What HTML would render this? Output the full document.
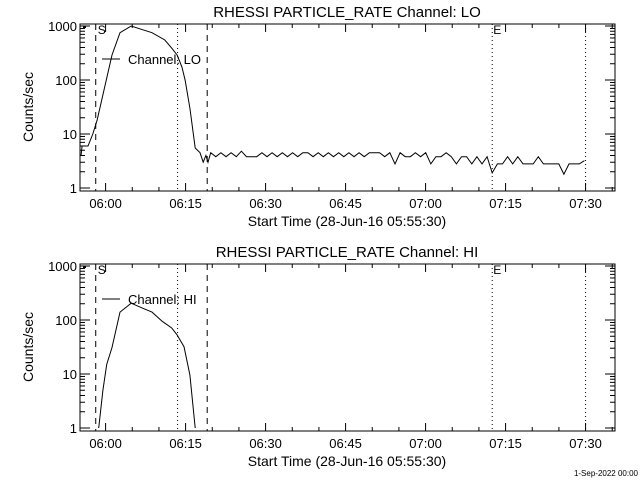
<!DOCTYPE html>
<html><head><meta charset="utf-8"><style>
html,body{margin:0;padding:0;background:#fff;}
svg{display:block;font-family:"Liberation Sans",sans-serif;}
</style></head><body>
<svg id="chart" width="640" height="480" viewBox="0 0 640 480" xmlns="http://www.w3.org/2000/svg">
<rect x="0" y="0" width="640" height="480" fill="#fff"/>
<text x="638" y="476" text-anchor="end" font-size="8" fill="#000">1-Sep-2022 00:00</text>
</svg>
<script>
// data (time in minutes after 05:55:12)
const loTimes = [0.2,0.4,1.5,2.4,3.2,6.0,7.5,9.6,11.8,13.5,15.9,17.2,18.2,19.1,19.7,20.6,21.6,22.5,23.1,23.6,24.0];
const loValues = [4.1,6,6,10,18,290,750,1000,850,750,550,390,290,175,100,30,5.5,4.5,3,4,3];
const loNoiseStart = 24.5;
const loNoise = [4.5,3.8,4.5,3.8,4.5,3.8,4.8,3.8,3.8,3.8,4.5,3.8,4.5,3.8,4.5,3.8,4.5,3.8,4.5,4.5,3.8,4.5,3.8,4.5,3.8,4.5,3.8,4.5,3.8,4.5,3.8,4.5,4.5,4.5,3.8,4.5,2.8,4.5,3.8,3.8,4.5,3.8,4.5,2.8,3.8,3.8,4.5,3.8,2.8,3.8,3.8,2.8,3.8,2.8,3.8,1.9,2.8,2.8,3.8,2.8,3.8,2.8,2.8,2.8,3.8,2.8,2.8,2.8,2.8,1.8,2.8,2.8,2.8,3.2];
const hiTimes = [2.8,3.5,4.3,5.0,6.0,7.5,9.6,11.8,13.5,15.4,17.2,18.2,19.5,20.6,21.6,22.2];
const hiValues = [0.4,1,5,15,31,140,205,165,140,95,71,53,32,9.6,1,0.4];
const xTickLabels = ["06:00","06:15","06:30","06:45","07:00","07:15","07:30"];
const xTickMinutes = [4.8,19.8,34.8,49.8,64.8,79.8,94.8];
const yTickValues = [1,10,100,1000];
const dashedLines = [2.95,23.85];
const dottedLines = [18.3,77.3,94.8];

const svg = document.getElementById('chart');
const NS = 'http://www.w3.org/2000/svg';
const X0 = 80, X1 = 615, PXMIN = 5.333;
const xs = m => X0 + m * PXMIN;
function mk(tag, attrs, parent) {
  const e = document.createElementNS(NS, tag);
  for (const k in attrs) e.setAttribute(k, attrs[k]);
  (parent || svg).appendChild(e);
  return e;
}
function txt(s, attrs, parent) { const e = mk('text', attrs, parent); e.textContent = s; return e; }

function panel(off, chName, times, values, noise) {
  const ys = v => off + 188 - 54 * Math.log10(v);
  const g = mk('g', {});
  
  
  const top = off + 24, bot = off + 191;
  const t = txt('RHESSI PARTICLE_RATE Channel: ' + chName, {x: 347, y: off + 17, 'text-anchor': 'middle', 'font-size': 15}, g);
  
  
  const xl = txt('Start Time (28-Jun-16 05:55:30)', {x: 347, y: off + 226, 'text-anchor': 'middle', 'font-size': 14}, g);
  
  
  const yl = txt('Counts/sec', {x: 0, y: 0, 'text-anchor': 'middle', 'font-size': 14, transform: 'translate(33,' + (off + 107) + ') rotate(-90)'}, g);
  
  
  // frame
  const fr = mk('rect', {x: X0, y: top, width: X1 - X0, height: bot - top, fill: 'none', stroke: '#000', 'stroke-width': 1}, g);
  
  
  // x ticks
  for (let m = -0.2; m <= 100.3; m += 5) {
    const xx = xs(m);
    if (xx < X0 + 2 || xx > X1 - 1) continue;
    const major = xTickMinutes.some(v => Math.abs(v - m) < 0.5);
    const L = major ? 8 : 4;
    mk('line', {x1: xx, x2: xx, y1: bot, y2: bot - L, stroke: '#000'}, g);
    mk('line', {x1: xx, x2: xx, y1: top, y2: top + L, stroke: '#000'}, g);
  }
  xTickLabels.forEach((s, i) => {
    const l = txt(s, {x: xs(xTickMinutes[i]), y: bot + 17, 'text-anchor': 'middle', 'font-size': 13}, g);
    
    
  });
  // y ticks
  yTickValues.forEach((v, i) => {
    const yy = ys(v);
    mk('line', {x1: X0, x2: X0 + 10, y1: yy, y2: yy, stroke: '#000'}, g);
    mk('line', {x1: X1, x2: X1 - 10, y1: yy, y2: yy, stroke: '#000'}, g);
    const l = txt(String(v), {x: X0 - 3, y: yy + 5, 'text-anchor': 'end', 'font-size': 13}, g);
    
    
    if (i < yTickValues.length - 1 || true) {
      for (let k = 2; k <= 9; k++) {
        const yk = ys(v * k);
        if (yk < top) continue;
        mk('line', {x1: X0, x2: X0 + 5, y1: yk, y2: yk, stroke: '#000'}, g);
        mk('line', {x1: X1, x2: X1 - 5, y1: yk, y2: yk, stroke: '#000'}, g);
      }
    }
  });
  // vertical markers
  dashedLines.forEach(m => {
    const l = mk('line', {x1: xs(m), x2: xs(m), y1: top, y2: bot, stroke: '#000', 'stroke-dasharray': '6,5'}, g);
    
    
  });
  dottedLines.forEach(m => {
    const l = mk('line', {x1: xs(m), x2: xs(m), y1: top, y2: bot, stroke: '#000', 'stroke-dasharray': '1,3'}, g);
    
    
  });
  txt('S', {x: xs(dashedLines[0]) + 2, y: top + 10, 'font-size': 12}, g);
  txt('E', {x: xs(dottedLines[1]) + 1, y: top + 10, 'font-size': 12}, g);
  mk('line', {x1: X0 + 3, x2: X0 + 6, y1: top + 3, y2: top + 3, stroke: '#000', 'stroke-width': 2}, g);
  // data
  const cid = 'clip' + chName;
  const cp = mk('clipPath', {id: cid}, g);
  mk('rect', {x: X0, y: top, width: X1 - X0, height: bot - top - 3}, cp);
  let pts = times.map((m, i) => xs(m).toFixed(1) + ',' + ys(values[i]).toFixed(1));
  if (noise) noise.forEach((v, i) => pts.push(xs(loNoiseStart + i * 0.96).toFixed(1) + ',' + ys(v).toFixed(1)));
  const pl = mk('polyline', {points: pts.join(' '), fill: 'none', stroke: '#000', 'stroke-width': 1, 'clip-path': 'url(#' + cid + ')'}, g);
  
  
  // legend
  const lg = mk('g', {}, g);
  
  
  mk('line', {x1: 102, x2: 120, y1: off + 59, y2: off + 59, stroke: '#000'}, lg);
  txt('Channel: ' + chName, {x: 128, y: off + 64, 'font-size': 13}, lg);
}
panel(0, 'LO', loTimes, loValues, loNoise);
panel(240, 'HI', hiTimes, hiValues, null);
</script>
</body></html>
